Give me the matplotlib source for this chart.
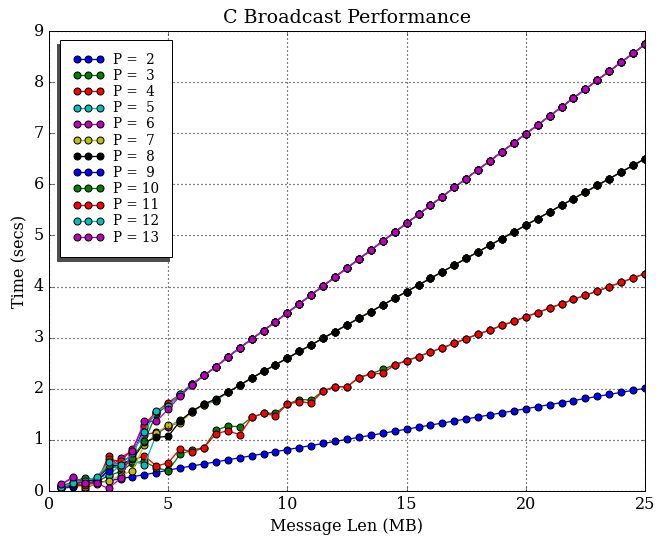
#!/usr/bin/env python3
"""Broadcast timing for 2..13 processes against message length."""

import matplotlib

matplotlib.use("Agg")
import matplotlib.pyplot as plt
import numpy as np

plt.style.use("classic")
plt.rcParams["font.family"] = "DejaVu Serif"

# message lengths in MB, 0.5 .. 25
msg_len = np.arange(1, 51) * 0.5

procs = [2, 3, 4, 5, 6, 7, 8, 9, 10, 11, 12, 13]
colors = ["b", "g", "r", "c", "m", "y", "k", "b", "g", "r", "c", "m"]

# P = 2: single hop
time_p2 = [0.05, 0.08, 0.12, 0.16, 0.20, 0.24, 0.28, 0.32, 0.36, 0.41,
           0.45, 0.49, 0.53, 0.57, 0.61, 0.65, 0.69, 0.73, 0.77, 0.81,
           0.85, 0.89, 0.93, 0.97, 1.01, 1.05, 1.09, 1.13, 1.17, 1.21,
           1.25, 1.29, 1.33, 1.37, 1.41, 1.45, 1.49, 1.53, 1.57, 1.61,
           1.65, 1.69, 1.73, 1.77, 1.81, 1.85, 1.89, 1.93, 1.97, 2.01]

# first 18 sizes (0.5 .. 9 MB) per run
head_p3 = [0.08, 0.12, 0.24, 0.18, 0.30, 0.38, 0.55, 0.58, 0.45, 0.40,
           0.72, 0.80, 0.85, 1.19, 1.27, 1.26, 1.44, 1.52]
head_p4 = [0.07, 0.15, 0.17, 0.15, 0.69, 0.45, 0.60, 0.69, 0.49, 0.55,
           0.83, 0.76, 0.85, 1.12, 1.18, 1.10, 1.44, 1.52]
head_p5 = [0.08, 0.12, 0.14, 0.26, 0.31, 0.51, 0.59, 0.51, 1.10, 1.27,
           1.38, 1.55, 1.69, 1.76, 1.93, 2.07, 2.21, 2.34]
head_p6 = [0.12, 0.26, 0.04, 0.16, 0.43, 0.65, 0.79, 1.10, 1.15, 1.25,
           1.36, 1.56, 1.70, 1.79, 1.93, 2.07, 2.21, 2.34]
head_p7 = [0.06, 0.10, 0.08, 0.14, 0.20, 0.30, 0.40, 0.90, 1.13, 1.30,
           1.33, 1.55, 1.69, 1.79, 1.94, 2.07, 2.21, 2.34]
head_p8 = [0.10, 0.14, 0.20, 0.22, 0.48, 0.52, 0.62, 0.95, 1.05, 1.07,
           1.37, 1.56, 1.70, 1.80, 1.93, 2.07, 2.21, 2.34]
head_p9 = [0.05, 0.10, 0.14, 0.20, 0.40, 0.55, 0.70, 1.25, 1.52, 1.68,
           1.88, 2.08, 2.26, 2.43, 2.62, 2.80, 2.97, 3.14]
head_p10 = [0.09, 0.18, 0.26, 0.22, 0.50, 0.45, 0.65, 0.98, 1.50, 1.70,
            1.88, 2.09, 2.26, 2.43, 2.62, 2.80, 2.97, 3.14]
head_p11 = [0.10, 0.13, 0.12, 0.18, 0.62, 0.58, 0.82, 1.30, 1.55, 1.73,
            1.89, 2.10, 2.26, 2.43, 2.62, 2.80, 2.97, 3.14]
head_p12 = [0.07, 0.16, 0.20, 0.27, 0.56, 0.50, 0.75, 1.15, 1.56, 1.67,
            1.90, 2.10, 2.26, 2.43, 2.62, 2.80, 2.97, 3.14]
head_p13 = [0.13, 0.27, 0.16, 0.15, 0.05, 0.25, 0.78, 1.36, 1.36, 1.60,
            1.86, 2.07, 2.26, 2.43, 2.62, 2.80, 2.97, 3.14]

# remaining 32 sizes (9.5 .. 25 MB)
tail_p3 = [1.52, 1.70, 1.79, 1.78, 1.96, 2.04, 2.04, 2.22, 2.29, 2.38,
           2.47, 2.55, 2.63, 2.72, 2.80, 2.89, 2.98, 3.07, 3.15, 3.24,
           3.32, 3.41, 3.49, 3.58, 3.66, 3.75, 3.83, 3.91, 4.00, 4.08,
           4.17, 4.25]
tail_p4 = [1.47, 1.70, 1.75, 1.72, 1.96, 2.04, 2.04, 2.22, 2.29, 2.30,
           2.47, 2.55, 2.63, 2.72, 2.80, 2.89, 2.98, 3.07, 3.15, 3.24,
           3.32, 3.41, 3.49, 3.58, 3.66, 3.75, 3.83, 3.91, 4.00, 4.08,
           4.17, 4.25]
tail_p5_8 = [2.47, 2.60, 2.73, 2.86, 2.99, 3.12, 3.25, 3.38, 3.51, 3.64,
             3.77, 3.90, 4.03, 4.16, 4.29, 4.42, 4.55, 4.68, 4.81, 4.94,
             5.07, 5.20, 5.33, 5.46, 5.59, 5.72, 5.85, 5.98, 6.11, 6.24,
             6.37, 6.50]
tail_p9_13 = [3.31, 3.49, 3.66, 3.84, 4.01, 4.19, 4.36, 4.54, 4.71, 4.89,
              5.06, 5.24, 5.41, 5.59, 5.76, 5.94, 6.11, 6.29, 6.46, 6.64,
              6.81, 6.99, 7.16, 7.34, 7.51, 7.69, 7.86, 8.04, 8.21, 8.39,
              8.56, 8.74]

timings = [
    time_p2,
    head_p3 + tail_p3,
    head_p4 + tail_p4,
    head_p5 + tail_p5_8,
    head_p6 + tail_p5_8,
    head_p7 + tail_p5_8,
    head_p8 + tail_p5_8,
    head_p9 + tail_p9_13,
    head_p10 + tail_p9_13,
    head_p11 + tail_p9_13,
    head_p12 + tail_p9_13,
    head_p13 + tail_p9_13,
]

W, H, DPI = 656, 538, 72
fig = plt.figure(figsize=(W / DPI, H / DPI), dpi=DPI, facecolor="white")
ax = fig.add_axes([49 / W, 47 / H, 596 / W, 460 / H])

for p, color, times in zip(procs, colors, timings):
    ax.plot(msg_len, times, "-o", color=color, mec="k", mew=1.0, ms=7,
            lw=1.3, label=f"P = {p:2d}")

ax.set_xlim(0, 25)
ax.set_ylim(0, 9)
ax.set_xticks([0, 5, 10, 15, 20, 25])
ax.set_yticks(range(10))
ax.grid(True, color="k", linestyle=":", linewidth=1.2)
ax.set_title("C Broadcast Performance", fontsize=19, pad=8)
ax.set_xlabel("Message Len (MB)", fontsize=16)
ax.set_ylabel("Time (secs)", fontsize=16)
ax.tick_params(labelsize=16, pad=5)

ax.legend(loc="upper left", bbox_to_anchor=(11 / 596, 1 - 9 / 460),
          borderaxespad=0, numpoints=3, fontsize=13.5, labelspacing=0.16,
          handlelength=2.3, handletextpad=0.7, borderpad=0.95, fancybox=False,
          shadow={"ox": -3, "oy": -4, "color": "0.3", "alpha": 1.0})

fig.savefig("out.png", dpi=DPI, facecolor="white")
